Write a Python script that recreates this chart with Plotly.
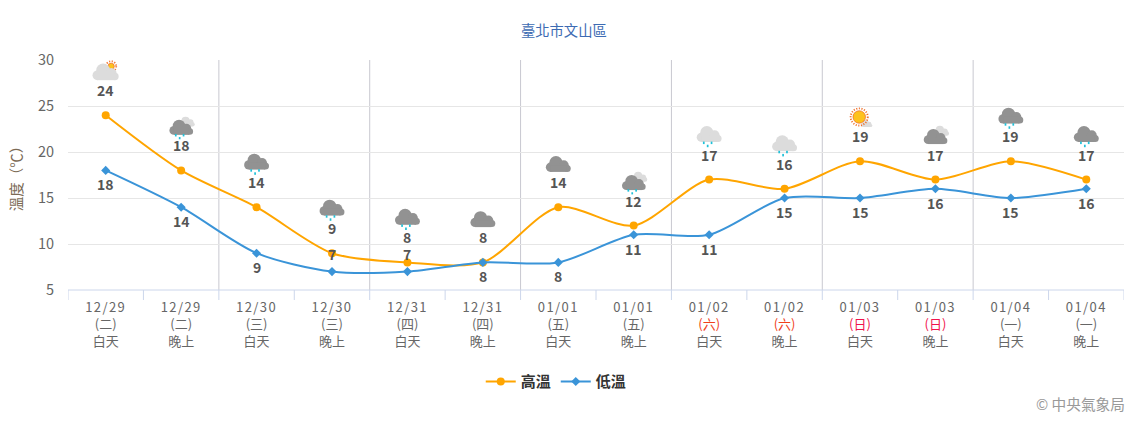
import base64
import plotly.graph_objects as go

dates = ["12/29","12/29","12/30","12/30","12/31","12/31","01/01","01/01","01/02","01/02","01/03","01/03","01/04","01/04"]
weekdays = ["二","二","三","三","四","四","五","五","六","六","日","日","一","一"]
periods = ["白天","晚上"] * 7
high = [24,18,14,9,8,8,14,12,17,16,19,17,19,17]
low = [18,14,9,7,7,8,8,11,11,15,15,16,15,16]
low_label_above = [False,False,False,True,True,False,False,False,False,False,False,False,False,False]
icons = ["cloud_sun","dark_light_rain","dark_rain","dark_rain","dark_rain","dark","dark","dark_light_rain",
         "light_rain","light_rain","sun_cloud","dark_light","dark_rain","dark_rain"]
day_boundaries = [1.5,3.5,5.5,7.5,9.5,11.5]
weekday_colors = {"六":"#f0401a","日":"#f0134d"}

cloud = ('<g fill="{c}" transform="translate({x} {y}) scale({s})">'
         '<circle cx="7" cy="20.5" r="6"/><circle cx="14" cy="14.5" r="8.5"/>'
         '<circle cx="24" cy="18" r="6.5"/><circle cx="28.5" cy="22" r="4.5"/>'
         '<rect x="7" y="18" width="21" height="8.5"/></g>')
def rain(dy=0):
    return ''.join(f'<rect x="{x}" y="{y+dy}" width="2.2" height="3.2" fill="#20c0d8"/>' for x,y in [(10,27),(20,27),(15,31)])
sun = '<circle cx="{x}" cy="{y}" r="{r2}" fill="none" stroke="#f0702a" stroke-width="2.4" stroke-dasharray="1.4 2"/><circle cx="{x}" cy="{y}" r="{r}" fill="#fdc21e" stroke="#f0702a" stroke-width="1"/>'
dark = "#929292"; lite = "#dcdcdc"
svgs = {
    "cloud_sun": sun.format(x=25,y=13,r=4,r2=6.5) + cloud.format(c=lite,x=0,y=3,s=1.05),
    "dark_light_rain": cloud.format(c=lite,x=15,y=3,s=0.62) + cloud.format(c=dark,x=2,y=5,s=0.95) + rain(2),
    "dark_rain": cloud.format(c=dark,x=1,y=1,s=1.0) + rain(),
    "dark": cloud.format(c=dark,x=1,y=4,s=1.0),
    "light_rain": cloud.format(c=lite,x=1,y=1,s=1.0) + rain(),
    "sun_cloud": cloud.format(c=lite,x=19,y=20,s=0.45) + sun.format(x=17,y=19,r=8,r2=11),
    "dark_light": cloud.format(c=lite,x=15,y=3,s=0.62) + cloud.format(c=dark,x=2,y=5,s=0.95),
}
def uri(name):
    svg = f'<svg xmlns="http://www.w3.org/2000/svg" width="36" height="36" viewBox="0 0 36 36">{svgs[name]}</svg>'
    return "data:image/svg+xml;base64," + base64.b64encode(svg.encode()).decode()

FONT = "Noto Sans CJK TC, Noto Sans, sans-serif"
PX_X = 1056 / 14      # pixels per category
PX_Y = 230 / 25       # pixels per degree
ICON = 28             # icon size in pixels
ICON_GAP = 31         # pixels from the high point up to the icon's bottom edge

ticktext = []
for d, w, p in zip(dates, weekdays, periods):
    wd = f"({w})"
    if w in weekday_colors:
        wd = f'<span style="color:{weekday_colors[w]}">{wd}</span>'
    ticktext.append(f'<span style="letter-spacing:1.4px">{d}</span><br>{wd}<br>{p}')

fig = go.Figure()
xs = list(range(len(high)))
fig.add_trace(go.Scatter(x=xs, y=high, name="<b>高溫</b>", mode="lines+markers",
    line=dict(color="#ffa500", width=2, shape="spline", smoothing=0.8),
    marker=dict(color="#ffa500", size=8, symbol="circle")))
fig.add_trace(go.Scatter(x=xs, y=low, name="<b>低溫</b>", mode="lines+markers",
    line=dict(color="#3a94d8", width=2, shape="spline", smoothing=0.8),
    marker=dict(color="#3a94d8", size=7, symbol="diamond")))

ann = []
label_font = dict(family=FONT, size=14, color="#555555")
for i in xs:
    ann.append(dict(x=i, y=high[i], xref="x", yref="y", text=f"<b>{high[i]}</b>", showarrow=False, yshift=25, font=label_font))
    ann.append(dict(x=i, y=low[i], xref="x", yref="y", text=f"<b>{low[i]}</b>", showarrow=False,
                    yshift=18 if low_label_above[i] else -14, font=label_font))
ann.append(dict(xref="paper", yref="paper", x=1.0, xanchor="right", y=-110/230, yanchor="middle", showarrow=False,
                xshift=3, yshift=-3, text="© 中央氣象局", font=dict(family=FONT, size=14.7, color="#999999")))

images = [dict(source=uri(icons[i]), xref="x", yref="y", x=i, y=high[i] + ICON_GAP / PX_Y,
               sizex=ICON / PX_X, sizey=ICON / PX_Y,
               xanchor="center", yanchor="bottom", layer="above", sizing="contain") for i in xs]

shapes = [dict(type="line", xref="x", yref="paper", x0=b, x1=b, y0=0, y1=1, line=dict(color="#c8c8d0", width=1), layer="below")
          for b in day_boundaries]
shapes.append(dict(type="line", xref="paper", yref="paper", x0=0, x1=1, y0=0, y1=0, line=dict(color="#ccd6eb", width=1)))
for b in [x-0.5 for x in xs] + [13.5]:
    shapes.append(dict(type="line", xref="x", yref="paper", x0=b, x1=b, y0=0, y1=-10/230, line=dict(color="#ccd6eb", width=1)))

fig.update_layout(
    width=1138, height=428, margin=dict(l=68, r=14, t=60, b=138),
    paper_bgcolor="white", plot_bgcolor="white",
    font=dict(family=FONT, color="#666666", size=14),
    title=dict(text="臺北市文山區", x=0.4955, xanchor="center", y=0.928, yanchor="middle",
               font=dict(family=FONT, size=14.3, color="#3d6bb3")),
    xaxis=dict(type="linear", range=[-0.5, 13.5], tickmode="array", tickvals=xs, ticktext=ticktext,
               ticks="", showgrid=False, zeroline=False, showline=False, ticklabelstandoff=8,
               tickfont=dict(family=FONT, size=13, color="#666666")),
    yaxis=dict(range=[5, 30], tickvals=[5,10,15,20,25,30], gridcolor="#e6e6e6", zeroline=False, showline=False,
               ticks="", ticklabelstandoff=13, tickfont=dict(family=FONT, size=14.5, color="#666666"),
               title=dict(text="溫度（℃）", standoff=11, font=dict(family=FONT, size=14.5, color="#7b6a55"))),
    legend=dict(orientation="h", x=0.4955 - 35/1056, xanchor="center", y=-0.399, yanchor="middle",
                font=dict(family=FONT, size=15, color="#333333"), itemwidth=30),
    annotations=ann, images=images, shapes=shapes,
    showlegend=True,
)
fig.write_html("out.html", config={"displayModeBar": False}, post_script="document.body.style.margin='0';")
